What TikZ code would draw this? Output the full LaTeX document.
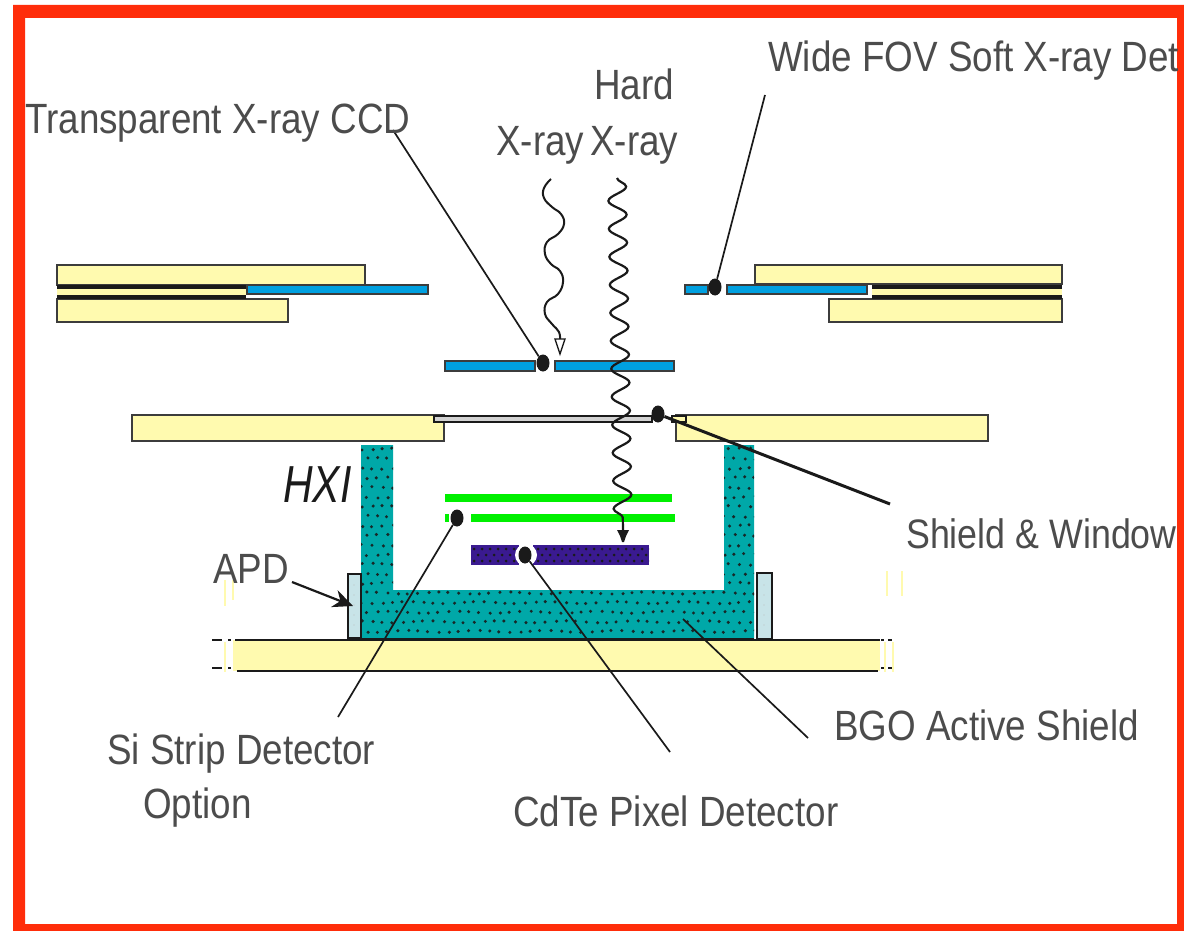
\documentclass[tikz,border=0pt]{standalone}
\usepackage{fontspec}
\setmainfont{Liberation Sans}
\usetikzlibrary{decorations.pathmorphing,arrows.meta,shapes.geometric}
\definecolor{frame}{HTML}{FF2D0A}
\definecolor{plate}{HTML}{FFFAAF}
\definecolor{ccd}{HTML}{00A0E0}
\definecolor{bgo}{HTML}{00A8A8}
\definecolor{apd}{HTML}{C8E4E8}
\definecolor{cdte}{HTML}{3A1A90}
\definecolor{si}{HTML}{00F000}
\definecolor{ink}{HTML}{1A1A1A}
\newcommand\tallabel[1]{\scalebox{1}[1.15]{#1}}
\tikzset{
  plateb/.style={draw=ink!85,line width=2pt,fill=plate},
  ccdb/.style={draw=ink!85,line width=2pt,fill=ccd},
  band/.style={draw=ink,line width=3.8pt},
  leader/.style={draw=ink,line width=1.7pt},
  lab/.style={font=\fontsize{36.8}{36.8}\selectfont,text=ink!78,inner sep=0pt,anchor=base west},
  blob/.style={ellipse,fill=ink,minimum width=13pt,minimum height=17pt,inner sep=0pt},
  spk/.style={fill=ink!90!bgo}
}
\begin{document}
\begin{tikzpicture}[x=1pt,y=-1pt]
\useasboundingbox (0,0) rectangle (1184,931);
\fill[white] (0,0) rectangle (1184,931);
\fill[frame,even odd rule] (13,5) rectangle (1184,931) (25,18) rectangle (1177,924);

% upper plates, left
\path[plateb] (57,265) rectangle (365,285);
\path[plateb] (57,299) rectangle (288,322);
\fill[plate] (57,289) rectangle (246,295);
\draw[band] (57,287) -- (246,287);
\draw[band] (57,297) -- (246,297);
\path[ccdb] (247,285) rectangle (428,294);
% upper plates, right
\path[plateb] (755,265) rectangle (1062,284);
\path[plateb] (829,299) rectangle (1062,322);
\fill[plate] (872,289) rectangle (1062,295);
\draw[band] (872,287) -- (1062,287);
\draw[band] (872,297) -- (1062,297);
\path[ccdb] (685,285) rectangle (708,294);
\path[ccdb] (727,285) rectangle (867,294);
% transparent CCD
\path[ccdb] (445,361) rectangle (535,371);
\path[ccdb] (555,361) rectangle (674,371);
% shield plates and window
\path[plateb] (132,415) rectangle (444,441);
\path[plateb] (676,415) rectangle (988,441);
\path[draw=ink,line width=1.8pt,fill=gray!35] (434,416) rectangle (652,422);
\path[draw=ink,line width=1.6pt,fill=plate] (672,416) rectangle (686,422);

% base plate
\fill[plate] (233,640) rectangle (880,671);
\draw[ink,line width=1.8pt] (235,640) -- (880,640);
\draw[ink,line width=1.8pt] (237,671) -- (878,671);
\draw[ink,line width=1.8pt,dash pattern=on 10pt off 6pt on 3pt off 20pt] (212,640) -- (250,640);
\draw[ink,line width=1.8pt,dash pattern=on 10pt off 6pt on 3pt off 20pt] (212,668) -- (250,668);
\draw[ink,line width=1.8pt,dash pattern=on 3pt off 4pt on 4pt off 20pt] (881,640) -- (900,640);
\draw[ink,line width=1.8pt,dash pattern=on 3pt off 4pt on 4pt off 20pt] (881,668) -- (900,668);
\draw[plate,line width=1.2pt] (225,580) -- (225,606);
\draw[plate,line width=1.2pt] (233,580) -- (233,600);
\draw[plate,line width=1.2pt] (887,571) -- (887,596);
\draw[plate,line width=1.2pt] (902,571) -- (902,596);
\draw[plate,line width=1.2pt] (225,642) -- (225,672);
\draw[plate,line width=1.2pt] (885,642) -- (885,672);
\draw[plate,line width=1.2pt] (893,642) -- (893,672);

% BGO shield
\fill[bgo] (361,445) -- (393,445) -- (393,590) -- (724,590) -- (724,445) -- (754,445) -- (754,639) -- (361,639) -- cycle;
\begin{scope}
\clip (361,445) -- (393,445) -- (393,590) -- (724,590) -- (724,445) -- (754,445) -- (754,639) -- (361,639) -- cycle;
\foreach \r in {0,...,20}{
  \foreach \c in {0,...,38}{
    \pgfmathsetmacro{\dx}{362+\c*10.2+mod(\r,2)*5.1+1*sin(\c*97+\r*61)}
    \pgfmathsetmacro{\dy}{449+\r*9.6+1*cos(\c*53+\r*131)}
    \fill[spk] (\dx,\dy) circle (1.7pt);
  }
}
\end{scope}
\draw[ink,line width=1.8pt] (361,639) -- (754,639);
% APD blocks
\path[draw=ink,line width=2pt,fill=apd] (348,574) rectangle (361,638);
\path[draw=ink,line width=2pt,fill=apd] (757,573) rectangle (772,639);
\foreach \yy in {585,595,605,615,625}{
  \fill[gray!50] (354,\yy) circle (.7pt);
  \fill[gray!50] (764,\yy) circle (.7pt);
}

% silicon strips
\fill[si] (445,494) rectangle (672,502);
\fill[si] (445,514) rectangle (449,522);
\fill[si] (471,514) rectangle (675,522);
% CdTe
\fill[cdte] (471,545) rectangle (649,565);
\begin{scope}
\clip (471,545) rectangle (649,565);
\foreach \r in {0,1,2}{
  \foreach \c in {0,...,22}{
    \fill[ink] ({474+\c*8+mod(\r,2)*4},{549+\r*6}) circle (1.5pt);
  }
}
\fill[white] (519,545) rectangle (533,565);
\fill[white] (526,555) circle (11pt);
\end{scope}

% radiation
\coordinate (waveA) at (617,178);
\coordinate (waveB) at (623,542);
\draw[ink,line width=2.2pt,decorate,decoration={snake,segment length=28pt,amplitude=9pt,post length=8pt,pre length=0pt}] (waveA) -- (623,530);
\fill[ink] (617,530) -- (629,530) -- (626,536) -- (624,542) -- (622,542) -- (620,536) -- cycle;
\coordinate (softA) at (551,179);
\coordinate (softB) at (560,354);
\draw[ink,line width=2pt] plot[smooth,tension=.75] coordinates {(551,179) (544,188) (544,198) (552,207) (561,214) (564,224) (558,234) (547,242) (545,254) (551,264) (560,271) (563,282) (558,294) (547,302) (545,314) (552,324) (559,332) (560,341)};
\path[draw=ink,line width=1.3pt,fill=white] (555,339) -- (565,339) -- (560,354) -- cycle;

% dots and leaders
\node[blob] (dotccd) at (543,363) {};
\node[blob] (dotfov) at (715,287) {};
\node[blob] (dotwin) at (658,414) {};
\node[blob] (dotsi) at (457,518) {};
\node[blob] (dotcd) at (525,555) {};
\coordinate (ccdlabel) at (393,130);
\coordinate (fovlabel) at (765,95);
\coordinate (winlabel) at (890,504);
\coordinate (silabel) at (338,717);
\coordinate (cdlabel) at (670,752);
\coordinate (bgolabel) at (808,738);
\coordinate (bgotip) at (683,619);
\coordinate (apdlabel) at (292,582);
\coordinate (apdtip) at (353,606);
\draw[leader] (ccdlabel) -- (dotccd);
\draw[leader] (fovlabel) -- (dotfov);
\draw[ink,line width=3pt] (winlabel) -- (dotwin);
\draw[leader] (silabel) -- (dotsi);
\draw[leader] (cdlabel) -- (dotcd);
\draw[leader] (bgolabel) -- (bgotip);
\draw[ink,line width=2.2pt,-{Stealth[length=20pt,width=18pt]}] (apdlabel) -- (apdtip);

% labels
\node[lab] (t1) at (25,134) {\tallabel{Transparent X-ray CCD}};
\node[lab] (t2) at (768,72) {\tallabel{Wide FOV Soft X-ray Det}};
\node[lab] (t3) at (594,100) {\tallabel{Hard}};
\node[lab] (t4) at (496,156) {\tallabel{X-ray}};
\node[lab] (t5) at (590,156) {\tallabel{X-ray}};
\node[lab,font=\fontsize{35.8}{35.8}\selectfont] (t6) at (906,548) {\tallabel{Shield \& Window}};
\node[lab,font=\fontsize{41}{41}\selectfont\itshape,text=ink] (t7) at (283,502) {\scalebox{1}[1.27]{HXI}};
\node[lab] (t8) at (213,583) {\tallabel{APD}};
\node[lab] (t9) at (107,764) {\tallabel{Si Strip Detector}};
\node[lab] (t10) at (143,818) {\tallabel{Option}};
\node[lab] (t11) at (513,826) {\tallabel{CdTe Pixel Detector}};
\node[lab] (t12) at (834,740) {\tallabel{BGO Active Shield}};
\end{tikzpicture}
\end{document}
